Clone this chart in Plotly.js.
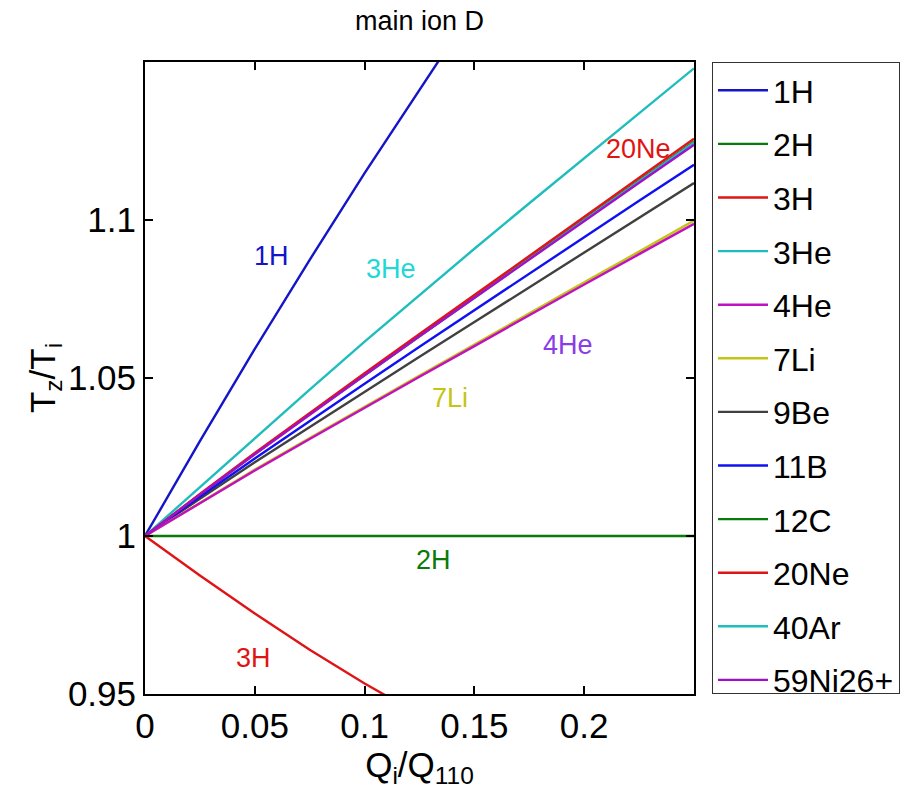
<!DOCTYPE html>
<html>
<head>
<meta charset="utf-8">
<script src="https://cdn.plot.ly/plotly-3.0.1.min.js"></script>
<style>html,body{margin:0;padding:0;background:#fff;}#chart{width:914px;height:796px;}</style>
</head>
<body>
<div id="chart"></div>
<script>
// Shared x grid (Q_i/Q_110)
const xs = [0, 0.025, 0.05, 0.075, 0.1, 0.125, 0.15, 0.175, 0.2, 0.225, 0.25];
const xs1H = [0, 0.025, 0.05, 0.075, 0.1, 0.125, 0.15];
const xs3H = [0, 0.025, 0.05, 0.075, 0.1, 0.125];

// Series values (T_z/T_i)
const y1H   = [1, 1.0300, 1.0592, 1.0874, 1.1148, 1.1414, 1.1675];
const y2H   = [1, 1, 1, 1, 1, 1, 1, 1, 1, 1, 1];
const y3H   = [1, 0.9875, 0.9755, 0.9640, 0.9533, 0.9435];
const y3He  = [1, 1.0155, 1.0310, 1.0463, 1.0615, 1.0763, 1.0909, 1.1053, 1.1196, 1.1338, 1.1480];
const y4He  = [1, 1.0103, 1.0207, 1.0307, 1.0406, 1.0504, 1.0601, 1.0699, 1.0796, 1.0892, 1.0988];
const y7Li  = [1, 1.0105, 1.0210, 1.0310, 1.0410, 1.0508, 1.0606, 1.0705, 1.0803, 1.0900, 1.0998];
const y9Be  = [1, 1.0118, 1.0233, 1.0345, 1.0456, 1.0567, 1.0677, 1.0787, 1.0896, 1.1006, 1.1117];
const y11B  = [1, 1.0124, 1.0245, 1.0364, 1.0482, 1.0599, 1.0715, 1.0831, 1.0946, 1.1061, 1.1175];
const y12C  = [1, 1.0131, 1.0260, 1.0386, 1.0510, 1.0633, 1.0756, 1.0879, 1.1002, 1.1125, 1.1248];
const y20Ne = [1, 1.0133, 1.0263, 1.0390, 1.0515, 1.0639, 1.0763, 1.0887, 1.1010, 1.1134, 1.1257];
const y40Ar = [1, 1.0131, 1.0260, 1.0386, 1.0510, 1.0632, 1.0754, 1.0877, 1.0999, 1.1122, 1.1245];
const y59Ni = [1, 1.0131, 1.0259, 1.0385, 1.0509, 1.0632, 1.0754, 1.0876, 1.0997, 1.1118, 1.1238];

const names  = ['1H','2H','3H','3He','4He','7Li','9Be','11B','12C','20Ne','40Ar','59Ni26+'];
const colors = ['#1414C8','#0A7A0A','#E01414','#20BDBD','#C010C0','#C4C414','#404040','#1010F0','#0A7A0A','#E01414','#20BDBD','#A010C8'];
const xsets  = [xs1H, xs, xs3H, xs, xs, xs, xs, xs, xs, xs, xs, xs];
const ysets  = [y1H, y2H, y3H, y3He, y4He, y7Li, y9Be, y11B, y12C, y20Ne, y40Ar, y59Ni];
// drawing order (hidden lines first), legend order kept by legendrank
const drawOrder = [8, 10, 1, 0, 2, 3, 6, 7, 5, 4, 9, 11];

const labelText   = ['1H','3He','20Ne','4He','7Li','2H','3H'];
const labelColors = ['#1414C8','#20D8D8','#E01414','#8A3CE6','#C4C414','#0A7A0A','#E01414'];
const labelX      = [0.0575, 0.112, 0.2245, 0.1925, 0.139, 0.1315, 0.0495];
const labelY      = [1.0885, 1.0845, 1.1225, 1.0605, 1.0437, 0.9923, 0.9615];

const FONT = 'Liberation Sans, Arial, sans-serif';

const traces = drawOrder.map(i => ({
  type: 'scatter', mode: 'lines',
  x: xsets[i], y: ysets[i], name: names[i],
  line: {color: colors[i], width: 2.4},
  legendrank: i + 1,
  legendgroup: 'g' + i
}));

const annotations = labelText.map((t, k) => ({
  x: labelX[k], y: labelY[k], xref: 'x', yref: 'y', text: t, showarrow: false,
  font: {family: FONT, size: 27, color: labelColors[k]}
}));

const layout = {
  width: 914, height: 796,
  margin: {l: 145, r: 220, t: 62, b: 102},
  paper_bgcolor: '#fff', plot_bgcolor: '#fff',
  showlegend: true,
  title: {text: 'main ion D', font: {family: FONT, size: 27, color: '#000'}, x: 0.459, xanchor: 'center', y: 0.974, yanchor: 'middle'},
  xaxis: {
    range: [0, 0.25], tickvals: [0, 0.05, 0.1, 0.15, 0.2], ticktext: ['0','0.05','0.1','0.15','0.2'],
    ticks: 'inside', ticklen: 8, tickwidth: 2, tickcolor: '#000',
    showline: true, linecolor: '#000', linewidth: 2, mirror: 'ticks',
    showgrid: false, zeroline: false,
    tickfont: {family: FONT, size: 35, color: '#000'},
    title: {text: 'Q<sub>i</sub>/Q<sub>110</sub>', font: {family: FONT, size: 35, color: '#000'}, standoff: 4}
  },
  yaxis: {
    range: [0.95, 1.15], tickvals: [0.95, 1, 1.05, 1.1], ticktext: ['0.95','1','1.05','1.1'],
    ticks: 'inside', ticklen: 8, tickwidth: 2, tickcolor: '#000',
    showline: true, linecolor: '#000', linewidth: 2, mirror: 'ticks',
    showgrid: false, zeroline: false,
    tickfont: {family: FONT, size: 35, color: '#000'},
    title: {text: 'T<sub>z</sub>/T<sub>i</sub>', font: {family: FONT, size: 35, color: '#000'}, standoff: 2}
  },
  legend: {
    x: 1.0328, xanchor: 'left', y: 1.0, yanchor: 'top',
    bordercolor: '#333', borderwidth: 1, bgcolor: '#fff',
    font: {family: FONT, size: 32, color: '#000'},
    traceorder: 'grouped', tracegroupgap: 9, itemwidth: 50
  },
  annotations: annotations
};

Plotly.newPlot('chart', traces, layout, {displayModeBar: false, staticPlot: true});
</script>
</body>
</html>
